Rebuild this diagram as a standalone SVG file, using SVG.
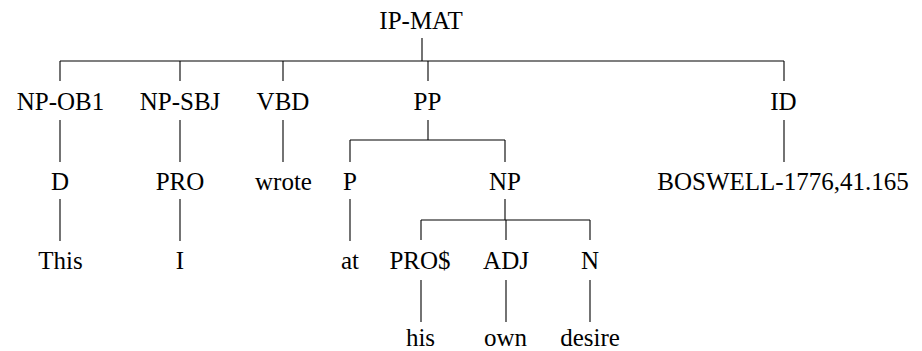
<svg xmlns="http://www.w3.org/2000/svg" width="922" height="351" viewBox="0 0 922 351">
<style>
.t{font-size:25px;fill:#000;text-anchor:middle}
.c line{stroke:#000;stroke-width:1.1}
</style>
<rect width="922" height="351" fill="#fff"/>
<g id="connectors" class="c">
<line x1="422" y1="38" x2="422" y2="61"/>
<line x1="60" y1="61" x2="784" y2="61"/>
<line x1="60" y1="61" x2="60" y2="81"/>
<line x1="180" y1="61" x2="180" y2="81"/>
<line x1="283" y1="61" x2="283" y2="81"/>
<line x1="428" y1="61" x2="428" y2="81"/>
<line x1="784" y1="61" x2="784" y2="81"/>
<line x1="60" y1="120" x2="60" y2="162"/>
<line x1="180" y1="120" x2="180" y2="162"/>
<line x1="283" y1="120" x2="283" y2="162"/>
<line x1="784" y1="120" x2="784" y2="162"/>
<line x1="428" y1="120" x2="428" y2="140"/>
<line x1="350" y1="140" x2="505" y2="140"/>
<line x1="350" y1="140" x2="350" y2="162"/>
<line x1="505" y1="140" x2="505" y2="162"/>
<line x1="60" y1="199" x2="60" y2="241"/>
<line x1="180" y1="199" x2="180" y2="241"/>
<line x1="350" y1="199" x2="350" y2="241"/>
<line x1="505" y1="199" x2="505" y2="220"/>
<line x1="421" y1="220" x2="590" y2="220"/>
<line x1="421" y1="220" x2="421" y2="240"/>
<line x1="506" y1="220" x2="506" y2="240"/>
<line x1="590" y1="220" x2="590" y2="240"/>
<line x1="421" y1="280" x2="421" y2="322"/>
<line x1="506" y1="280" x2="506" y2="322"/>
<line x1="590" y1="280" x2="590" y2="322"/>
</g>
<g class="t" font-family="Liberation Serif, Tinos, Times New Roman, Times, Noto Serif, DejaVu Serif, serif">
<g id="n-ipmat"><text x="421" y="29">IP-MAT</text></g>
<g id="n-npob1"><text x="60.5" y="109.5">NP-OB1</text></g>
<g id="n-npsbj"><text x="180" y="109.5">NP-SBJ</text></g>
<g id="n-vbd"><text x="283" y="109.5">VBD</text></g>
<g id="n-pp"><text x="427.5" y="109.5">PP</text></g>
<g id="n-id"><text x="783.5" y="109.5">ID</text></g>
<g id="n-d"><text x="60" y="189.5">D</text></g>
<g id="n-pro"><text x="180" y="189.5">PRO</text></g>
<g id="n-wrote"><text x="283.5" y="189.5">wrote</text></g>
<g id="n-p"><text x="350" y="189.5">P</text></g>
<g id="n-np"><text x="505" y="189.5">NP</text></g>
<g id="n-boswell"><text x="783" y="189.5">BOSWELL-1776,41.165</text></g>
<g id="n-this"><text x="60.5" y="269">This</text></g>
<g id="n-i"><text x="180" y="269">I</text></g>
<g id="n-at"><text x="350" y="269">at</text></g>
<g id="n-pros"><text x="420" y="269">PRO$</text></g>
<g id="n-adj"><text x="506" y="269">ADJ</text></g>
<g id="n-n"><text x="590" y="269">N</text></g>
<g id="n-his"><text x="420.5" y="346">his</text></g>
<g id="n-own"><text x="505.5" y="346">own</text></g>
<g id="n-desire"><text x="590" y="346">desire</text></g>
</g>
</svg>
